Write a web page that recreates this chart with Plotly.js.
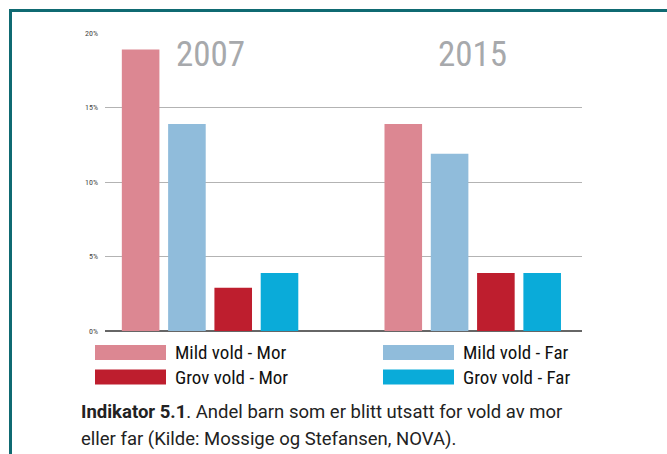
<!DOCTYPE html>
<html>
<head>
<meta charset="utf-8">
<script src="https://cdn.plot.ly/plotly-3.0.1.min.js"></script>
<style>
html,body{margin:0;padding:0;background:#fff;}
#chart{width:667px;height:454px;}
</style>
</head>
<body>
<div id="chart"></div>
<script>
// ---- data ----
const years = ['2007', '2015'];
const seriesNames = ['Mild vold - Mor', 'Mild vold - Far', 'Grov vold - Mor', 'Grov vold - Far'];
const mildMor = [18.9, 13.9];
const mildFar = [13.9, 11.9];
const grovMor = [2.9, 3.9];
const grovFar = [3.9, 3.9];
const seriesColors = ['#dc8792', '#90bcdb', '#be1e2e', '#0aabd9'];
const yTickVals = [0, 5, 10, 15, 20];
const yTickText = ['0%', '5%', '10%', '15%', '20%'];
const captionLines = ['<b>Indikator 5.1</b>. Andel barn som er blitt utsatt for vold av mor',
                      'eller far (Kilde: Mossige og Stefansen, NOVA).'];

// ---- layout helpers (pixel -> paper) ----
const W = 667, H = 454;
const M = {l: 105, r: 85, t: 33, b: 123};
const PW = W - M.l - M.r, PH = H - M.t - M.b;
const px = x => (x - M.l) / PW;
const py = y => 1 - (y - M.t) / PH;

const condensed = '"Roboto Condensed", "DejaVu Sans Condensed", "Liberation Sans Narrow", "Arial Narrow", Roboto, sans-serif';

const allValues = [mildMor, mildFar, grovMor, grovFar];
const traces = allValues.map((vals, i) => ({
  type: 'bar',
  name: seriesNames[i],
  x: years,
  y: vals,
  marker: {color: seriesColors[i], line: {width: 0}},
  hoverinfo: 'name+y',
  showlegend: false
}));

const shapes = [];
const annotations = [];

// year labels (category index on the x axis)
years.forEach((yr, i) => {
  annotations.push({
    x: i, y: 18.55, xref: 'x', yref: 'y',
    text: yr, showarrow: false,
    xanchor: 'center', yanchor: 'middle',
    font: {family: condensed, size: 35, color: '#a7a9ac'}
  });
});

// custom legend: 2 columns x 2 rows
const legendPos = [
  {sx: 95, tx: 173, yc: 352.5},
  {sx: 383, tx: 461, yc: 352.5},
  {sx: 95, tx: 173, yc: 377},
  {sx: 383, tx: 461, yc: 377}
];
seriesNames.forEach((nm, i) => {
  const p = legendPos[i];
  shapes.push({
    type: 'rect', xref: 'paper', yref: 'paper',
    x0: px(p.sx), x1: px(p.sx + 71), y0: py(p.yc - 7.5), y1: py(p.yc + 7.5),
    fillcolor: seriesColors[i], line: {width: 0}
  });
  annotations.push({
    xref: 'paper', yref: 'paper', x: px(p.tx), y: py(p.yc),
    text: nm, showarrow: false, xanchor: 'left', yanchor: 'middle',
    font: {family: condensed, size: 19, color: '#111111'}
  });
});

// caption
captionLines.forEach((ln, i) => {
  annotations.push({
    xref: 'paper', yref: 'paper', x: px(79), y: py(412 + i * 27),
    text: ln, showarrow: false, xanchor: 'left', yanchor: 'middle',
    font: {family: 'Roboto, sans-serif', size: 18.5, color: '#222222'}
  });
});

// frame (top and left teal border)
shapes.push({type: 'line', xref: 'paper', yref: 'paper',
  x0: px(9), x1: px(680), y0: py(10.5), y1: py(10.5),
  line: {color: '#0f6a72', width: 3}});
shapes.push({type: 'line', xref: 'paper', yref: 'paper',
  x0: px(10.5), x1: px(10.5), y0: py(9), y1: py(470),
  line: {color: '#0f6a72', width: 3}});

const layout = {
  width: W, height: H,
  margin: M,
  paper_bgcolor: '#ffffff', plot_bgcolor: '#ffffff',
  barmode: 'group',
  bargap: 0.295,
  bargroupgap: 0.188,
  showlegend: false,
  xaxis: {
    type: 'category', range: [-0.4, 1.416],
    showticklabels: false, showgrid: false, zeroline: false, showline: false, ticks: ''
  },
  yaxis: {
    range: [0, 20], fixedrange: true,
    tickvals: yTickVals, ticktext: yTickText,
    showgrid: true, gridcolor: '#b3b3b3', gridwidth: 1,
    zeroline: true, zerolinecolor: '#666666', zerolinewidth: 2,
    showline: false, ticks: '',
    ticklabelstandoff: 6,
    tickfont: {family: condensed, size: 8, color: '#444444'}
  },
  shapes: shapes,
  annotations: annotations
};

Plotly.newPlot('chart', traces, layout, {displayModeBar: false, staticPlot: true});
</script>
</body>
</html>
